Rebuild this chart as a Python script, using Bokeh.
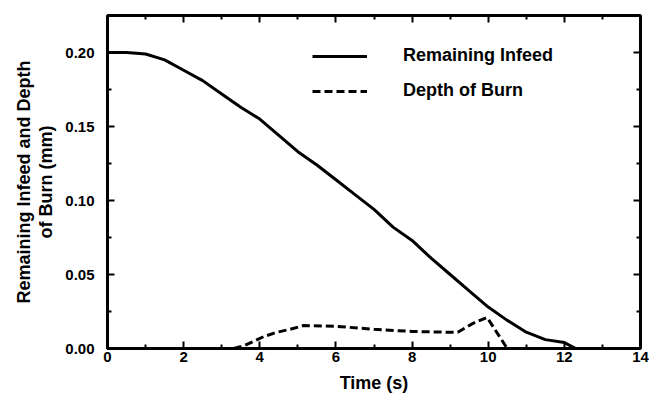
from bokeh.plotting import figure
from bokeh.models import (LinearAxis, FixedTicker, NumeralTickFormatter, Legend, LegendItem,
                          Range1d, CustomJSTickFormatter)
from bokeh.embed import file_html
from bokeh.resources import INLINE

# ---- data ----
t_infeed = [0.0, 0.5, 1.0, 1.5, 2.0, 2.5, 3.0, 3.5, 4.0, 4.5, 5.0, 5.5, 6.0, 6.5,
            7.0, 7.5, 8.0, 8.5, 9.0, 9.5, 10.0, 10.5, 11.0, 11.5, 12.0, 12.3]
remaining_infeed = [0.200, 0.200, 0.199, 0.195, 0.188, 0.181, 0.172, 0.163, 0.155, 0.144,
                    0.133, 0.124, 0.114, 0.104, 0.094, 0.082, 0.073, 0.061, 0.050, 0.039,
                    0.028, 0.019, 0.011, 0.006, 0.004, 0.0]

t_burn = [3.0, 3.3, 3.6, 3.85, 4.1, 4.45, 4.8, 5.15, 6.0, 7.0, 8.0, 9.0, 9.2, 9.6, 9.97, 10.5]
depth_of_burn = [0.0, 0.0, 0.002, 0.005, 0.008, 0.011, 0.013, 0.0155, 0.015, 0.013,
                 0.0115, 0.011, 0.011, 0.017, 0.021, 0.0]

x_ticks = [0, 2, 4, 6, 8, 10, 12, 14]
x_minor = [1, 3, 5, 7, 9, 11, 13]
y_ticks = [0.0, 0.05, 0.10, 0.15, 0.20]
y_minor = [0.025, 0.075, 0.125, 0.175]

FONT = "Liberation Sans"

p = figure(width=649, height=396, output_backend="svg", toolbar_location=None,
           x_range=Range1d(0, 14), y_range=Range1d(0, 0.225),
           x_axis_location=None, y_axis_location=None,
           min_border_left=107, min_border_right=9, min_border_top=15, min_border_bottom=48)
p.grid.visible = False
p.outline_line_color = "black"
p.outline_line_width = 3
p.background_fill_color = "white"
p.border_fill_color = "white"

blank = CustomJSTickFormatter(code="return '';")

def style_axis(ax, labels=True):
    ax.axis_line_width = 3
    ax.axis_line_color = "black"
    ax.major_tick_in = 7
    ax.major_tick_out = 0
    ax.minor_tick_in = 4
    ax.minor_tick_out = 0
    ax.major_tick_line_width = 2
    ax.minor_tick_line_width = 2
    ax.major_label_text_font = FONT
    ax.major_label_text_font_style = "bold"
    ax.major_label_text_color = "black"
    ax.major_label_text_font_size = "15px"
    if not labels:
        ax.formatter = blank
        ax.major_label_standoff = 0
    ax.axis_label_text_font = FONT
    ax.axis_label_text_font_style = "bold"
    ax.axis_label_text_font_size = "18px"
    ax.axis_label_text_color = "black"

xb = LinearAxis(ticker=FixedTicker(ticks=x_ticks, minor_ticks=x_minor), axis_label="Time (s)")
style_axis(xb)
xb.major_label_standoff = 3
xb.axis_label_standoff = 8
p.add_layout(xb, "below")

xt = LinearAxis(ticker=FixedTicker(ticks=x_ticks, minor_ticks=x_minor))
style_axis(xt, labels=False)
p.add_layout(xt, "above")

yl = LinearAxis(ticker=FixedTicker(ticks=y_ticks, minor_ticks=y_minor),
                formatter=NumeralTickFormatter(format="0.00"), axis_label="of Burn (mm)")
style_axis(yl)
yl.major_label_standoff = 13
yl.axis_label_standoff = 6
p.add_layout(yl, "left")

yl2 = LinearAxis(ticker=FixedTicker(ticks=[], minor_ticks=[]), axis_label="Remaining Infeed and Depth")
style_axis(yl2, labels=False)
yl2.axis_line_color = None
yl2.axis_label_standoff = 0
p.add_layout(yl2, "left")

yr = LinearAxis(ticker=FixedTicker(ticks=y_ticks, minor_ticks=y_minor))
style_axis(yr, labels=False)
p.add_layout(yr, "right")

r1 = p.line(t_infeed, remaining_infeed, line_color="black", line_width=3)
r2 = p.line(t_burn, depth_of_burn, line_color="black", line_width=3, line_dash="8 4")

legend = Legend(items=[LegendItem(label="Remaining Infeed", renderers=[r1]),
                       LegendItem(label="Depth of Burn", renderers=[r2])],
                location=(205, 247))
legend.glyph_width = 55
legend.glyph_height = 20
legend.label_height = 20
legend.label_standoff = 36
legend.spacing = 14
legend.padding = 0
legend.margin = 0
legend.border_line_color = None
legend.background_fill_alpha = 0
legend.label_text_font = FONT
legend.label_text_font_style = "bold"
legend.label_text_font_size = "18px"
legend.label_text_color = "black"
p.add_layout(legend, "center")

open("out.html", "w").write(file_html(p, INLINE))
